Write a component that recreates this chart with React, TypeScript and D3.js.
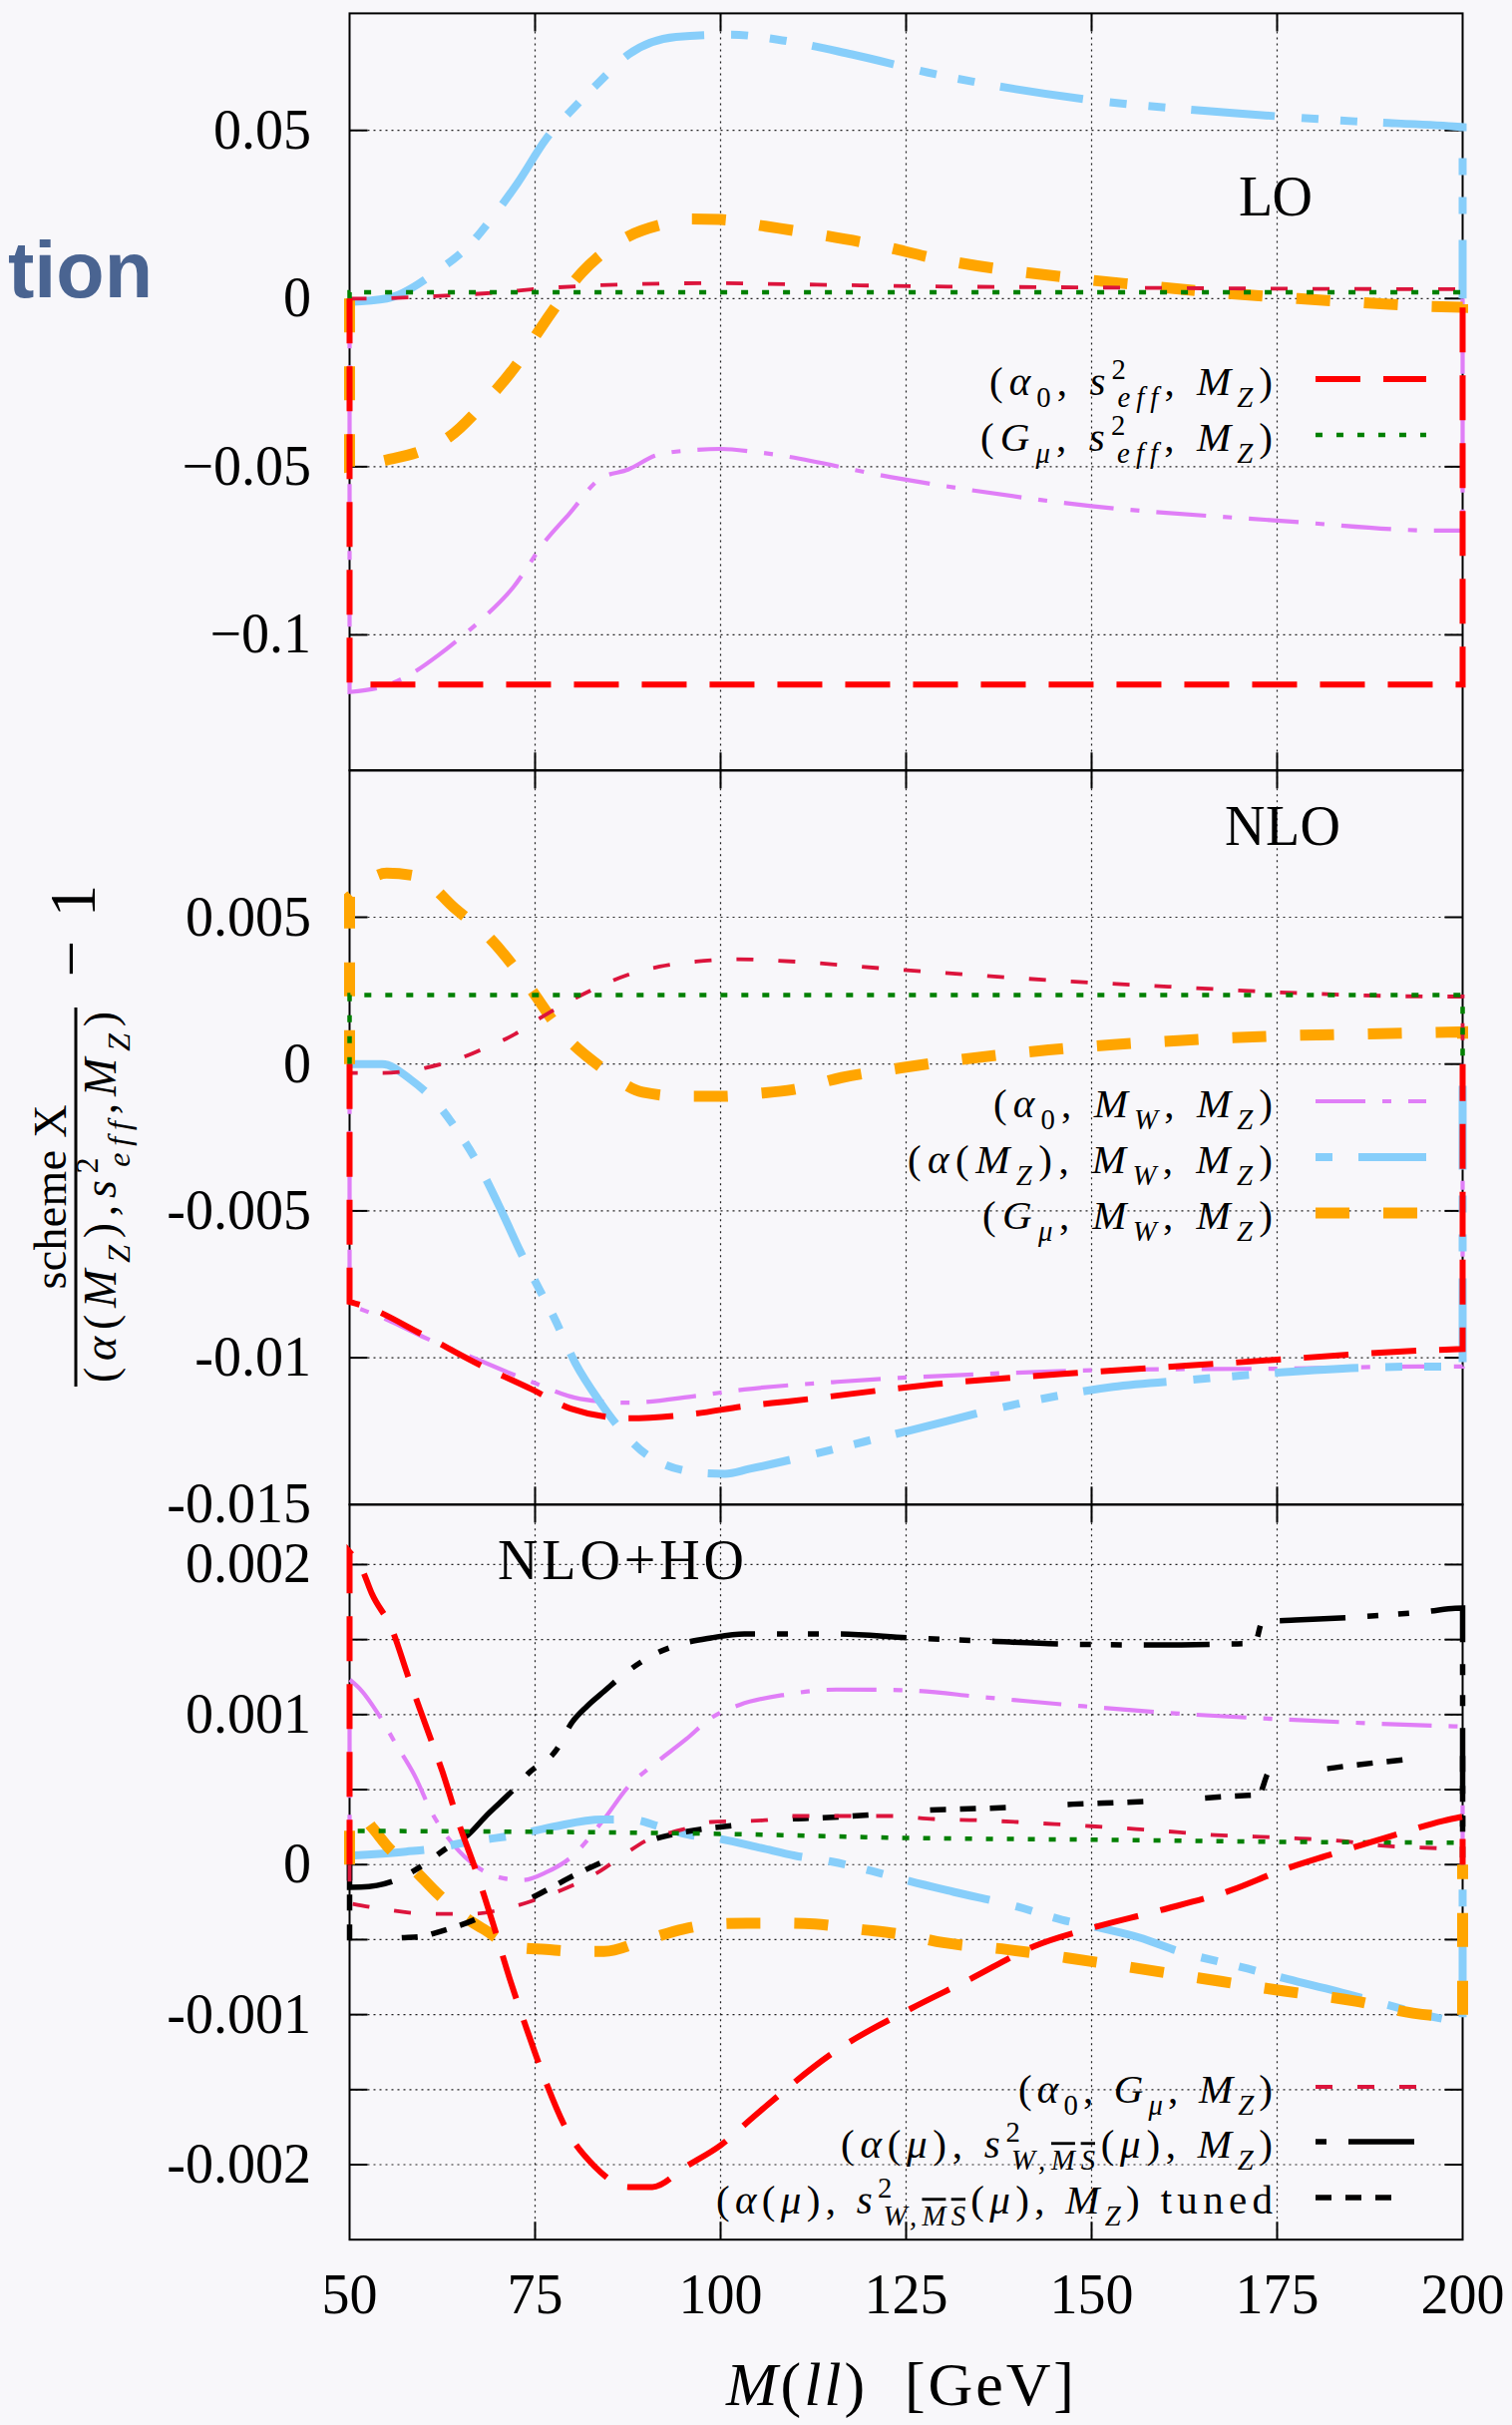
import React from 'react';
import * as d3 from 'd3';

type Pt = [number, number];
type Part = [string, string];

const SERIF = "'Liberation Serif', 'DejaVu Serif', serif";

// x axis: M(ll) in GeV
const massTicks = [50, 75, 100, 125, 150, 175, 200];

// ---- LO panel ----
const loTicks = [0.05, 0, -0.05, -0.1];
const loTickText = ['0.05', '0', '\u22120.05', '\u22120.1'];
const loA0Seff: Pt[] = [[50, -0.1148], [200, -0.1148]];
const loGmuSeff: Pt[] = [[50, 0.0019], [200, 0.0019]];
const loA0Gmu: Pt[] = [[50, 0], [52.6, 0], [61.5, 0.0007], [68, 0.0015], [77.8, 0.0033], [89, 0.0043], [100, 0.0046], [105.7, 0.0044], [129, 0.0036], [150, 0.0033], [169, 0.003], [197, 0.0028], [200, 0.0028]];
const loA0Mw: Pt[] = [[50, -0.117], [55, -0.115], [58, -0.112], [62, -0.106], [65.4, -0.1], [68, -0.095], [72, -0.086], [76.4, -0.072], [79.6, -0.064], [83.8, -0.0535], [87.6, -0.0508], [91.5, -0.0465], [96.7, -0.045], [100, -0.0447], [105, -0.0457], [124, -0.0535], [150, -0.0617], [175, -0.066], [197, -0.069], [200, -0.069]];
const loAmzMw: Pt[] = [[50, -0.001], [55, 0], [61.5, 0.0077], [66.4, 0.0165], [69.3, 0.0243], [72.6, 0.0342], [76.5, 0.0475], [80.4, 0.0571], [83.7, 0.0645], [87.6, 0.0726], [94, 0.0778], [101.3, 0.0785], [107.7, 0.077], [117.7, 0.0726], [129, 0.0667], [149, 0.0593], [169, 0.0552], [185.5, 0.0527], [198.8, 0.0512], [200, 0.051]];
const loGmuMw: Pt[] = [[50, -0.05], [55, -0.048], [60, -0.045], [63.5, -0.041], [68, -0.0314], [72.3, -0.0203], [76, -0.008], [81.3, 0.0077], [86.2, 0.0168], [92.8, 0.0224], [96, 0.0237], [100, 0.0235], [106, 0.0215], [113.3, 0.019], [121.3, 0.0158], [128.6, 0.0121], [148.2, 0.0059], [156.5, 0.004], [164.8, 0.0022], [177.8, 0], [186.4, -0.0012], [195.5, -0.0023], [200, -0.0026]];

// ---- NLO panel ----
const nloTicks = [0.005, 0, -0.005, -0.01, -0.015];
const nloTickText = ['0.005', '0', '-0.005', '-0.01', '-0.015'];
const nloA0Seff: Pt[] = [[50, -0.0081], [52.4, -0.00828], [59.6, -0.00918], [68, -0.0103], [74.6, -0.01108], [79.8, -0.01173], [87.6, -0.01206], [96.7, -0.0119], [103.2, -0.01165], [109, -0.01149], [129, -0.0109], [149, -0.0105], [169, -0.01017], [194, -0.00976], [200, -0.0097]];
const nloGmuSeff: Pt[] = [[50, 0.00235], [200, 0.00235]];
const nloA0Gmu: Pt[] = [[50, -0.0003], [54.4, -0.0003], [60.2, -0.00013], [64.5, 0.00016], [68.4, 0.00056], [72.3, 0.00102], [75.9, 0.0016], [79.5, 0.00212], [83.4, 0.00261], [87.3, 0.00302], [91.8, 0.00332], [96.7, 0.00349], [102.2, 0.00357], [107.7, 0.00352], [124.3, 0.00321], [144.2, 0.00286], [160.9, 0.00263], [177.5, 0.00242], [196.8, 0.0023], [200, 0.0023]];
const nloA0Mw: Pt[] = [[50, -0.0082], [55, -0.0087], [60, -0.0093], [68, -0.01014], [74.6, -0.01083], [81.1, -0.0114], [87.6, -0.01153], [96.7, -0.0113], [103.2, -0.01108], [115.7, -0.01082], [135.6, -0.01055], [155.6, -0.0104], [175.5, -0.01037], [194, -0.0103], [200, -0.0103]];
const nloAmzMw: Pt[] = [[50, 0], [54.4, 0], [58.3, -0.00054], [61.6, -0.00129], [64.5, -0.00226], [67, -0.00326], [70.6, -0.00507], [73, -0.00638], [75.3, -0.00754], [77.5, -0.0086], [80.4, -0.01017], [83.7, -0.01149], [86.9, -0.01255], [90.5, -0.01338], [97.4, -0.01392], [100.6, -0.01395], [103.8, -0.01379], [111, -0.01338], [116.3, -0.01305], [125.6, -0.01247], [141.5, -0.01149], [152.9, -0.01099], [163.5, -0.01075], [175.5, -0.0105], [194, -0.0103], [200, -0.0103]];
const nloGmuMw: Pt[] = [[50, 0.0057], [55, 0.0065], [59, 0.0064], [64.2, 0.0053], [69.1, 0.00423], [74, 0.0027], [78.8, 0.00102], [84, -0.00013], [89.5, -0.00096], [95, -0.0011], [100, -0.0011], [105, -0.001], [109.7, -0.00087], [116.3, -0.00046], [124.3, -0.00013], [144.2, 0.00048], [152.9, 0.00066], [161.6, 0.0008], [176.8, 0.00097], [185.8, 0.00102], [194.8, 0.00107], [200, 0.0011]];

// ---- NLO+HO panel ----
const hoTicks = [0.002, 0.0015, 0.001, 0.0005, 0, -0.0005, -0.001, -0.0015, -0.002];
const hoTickText = ['0.002', '', '0.001', '', '0', '', '-0.001', '', '-0.002'];
const hoA0Seff: Pt[] = [[50, 0.002085], [51.7, 0.001966], [53, 0.001807], [55.7, 0.00157], [57.9, 0.001254], [60.2, 0.000937], [62.5, 0.000621], [64.8, 0.000264], [67.1, -0.000051], [69.3, -0.000388], [71.6, -0.000764], [73.9, -0.0011], [76.2, -0.001417], [79.1, -0.001753], [83, -0.00201], [87.6, -0.002149], [90.8, -0.002149], [95.4, -0.00201], [100, -0.001871], [104.6, -0.001674], [115.6, -0.001239], [125.6, -0.000961], [133.6, -0.000764], [142.2, -0.000546], [150.2, -0.00042], [158.9, -0.000309], [168.8, -0.000171], [175.5, -0.00004], [182.2, 0.000067], [190.8, 0.000197], [197.4, 0.000292], [200, 0.00032]];
const hoGmuSeff: Pt[] = [[50, 0.000225], [100, 0.000205], [125, 0.000178], [150, 0.000166], [175, 0.000152], [200, 0.000146]];
const hoA0Gmu: Pt[] = [[50, -0.000258], [54.5, -0.000297], [60.8, -0.000328], [66.5, -0.000328], [71, -0.000293], [76, -0.000218], [78.5, -0.000171], [83.5, -0.000051], [87, 0.000067], [90.2, 0.000166], [94.8, 0.000233], [98.7, 0.000284], [106, 0.000296], [109, 0.000324], [117, 0.000324], [123, 0.000324], [128.7, 0.000304], [134.5, 0.000296], [140, 0.000284], [145, 0.00027], [150, 0.000256], [156, 0.000237], [161.5, 0.000217], [166.7, 0.000197], [172, 0.000187], [178, 0.000174], [183.5, 0.000158], [189, 0.000127], [197.5, 0.000107], [200, 0.0001]];
const hoA0Mw: Pt[] = [[50, 0.001234], [51.7, 0.001155], [53.7, 0.001017], [56.3, 0.000799], [58.9, 0.000581], [60.9, 0.000364], [64.1, 0.000127], [67.1, -0.000012], [70.7, -0.000091], [73.3, -0.000103], [76.5, -0.000051], [79.8, 0.000047], [84.3, 0.000304], [87.6, 0.000522], [90.8, 0.00066], [95.4, 0.000838], [98.7, 0.000977], [102.6, 0.001066], [109, 0.001135], [115.6, 0.001167], [124.3, 0.001163], [135.6, 0.001115], [148.9, 0.001056], [162.2, 0.001005], [175.5, 0.000969], [196.8, 0.000925], [200, 0.00092]];
const hoAmzMw: Pt[] = [[50, 0.00006], [57.6, 0.000087], [61.5, 0.000107], [65.4, 0.000146], [68, 0.000166], [72, 0.000193], [77.5, 0.000253], [84, 0.0003], [88, 0.0003], [92, 0.00025], [95.6, 0.0002], [100, 0.00017], [105.5, 0.00011], [110, 0.00006], [115, 0.00002], [121, -0.000051], [125.5, -0.000111], [131.5, -0.000183], [140, -0.000281], [146, -0.000368], [151, -0.00042], [156.5, -0.000487], [161, -0.000566], [171, -0.000693], [176.5, -0.000764], [183, -0.000843], [191, -0.00095], [196.5, -0.00102], [200, -0.00105]];
const hoGmuMw: Pt[] = [[50, 0.00025], [51.5, 0.00033], [53, 0.00025], [55.5, 0.0001], [58, 0], [62, -0.0002], [66.4, -0.00038], [68, -0.000428], [72.3, -0.00055], [76.5, -0.000566], [80.4, -0.000578], [84.3, -0.000578], [90, -0.0005], [95, -0.00043], [99.3, -0.000396], [103.6, -0.00039], [108.3, -0.00039], [112.7, -0.000396], [118.5, -0.00043], [125, -0.00047], [130, -0.00052], [138.6, -0.000566], [146.5, -0.00062], [154.6, -0.00068], [165, -0.00076], [176, -0.000843], [185.6, -0.00091], [193.3, -0.00099], [200, -0.00102]];
const hoAmuSw: Pt[] = [[50, -0.000151], [51.5, -0.00015], [56.4, -0.0001], [60, 0], [63, 0.000107], [66, 0.0002], [68.5, 0.00033], [72, 0.000495], [74.2, 0.000613], [77.8, 0.00076], [80, 0.00095], [82, 0.001056], [84.3, 0.001155], [87.6, 0.001293], [91.5, 0.001412], [94.7, 0.001471], [98.7, 0.001511], [103.2, 0.001538], [115.6, 0.001538], [125.6, 0.001511], [135.6, 0.001491], [145.6, 0.001471], [158.9, 0.001464], [168.8, 0.001471], [172, 0.001475], [173, 0.001618], [177.5, 0.00163], [185.5, 0.00165], [195.5, 0.001689], [199, 0.001709], [200, 0.00171]];
const hoAmuSwTuned: Pt[] = [[50, -0.00056], [51.5, -0.00053], [56.3, -0.00049], [59.6, -0.00048], [61.5, -0.000456], [65.8, -0.000388], [70, -0.0003], [74.2, -0.00023], [76.5, -0.000171], [79.5, -0.000091], [87.2, 0.000087], [90.8, 0.000166], [94.7, 0.000213], [104.5, 0.000276], [109.2, 0.000304], [112.8, 0.00031], [123.4, 0.000344], [128, 0.000364], [132.4, 0.00037], [143.2, 0.000391], [147.5, 0.000403], [151.7, 0.00041], [162.5, 0.000435], [167, 0.00045], [171.2, 0.000462], [172.5, 0.000465], [174, 0.000621], [176, 0.000621], [180.2, 0.00063], [184.2, 0.000656], [194.5, 0.000711], [198.5, 0.000731], [200, 0.000735]];

// legend labels
const legA0Seff: Part[] = [['(', 'r'], ['α', 'i'], ['0', 'bn'], [', ', 'r'], ['s', 'i'], ['2', 'p'], ['eff', 'bk'], [', ', 'r'], ['M', 'i'], ['Z', 'b'], [')', 'r']];
const legGmuSeff: Part[] = [['(', 'r'], ['G', 'i'], ['μ', 'b'], [', ', 'r'], ['s', 'i'], ['2', 'p'], ['eff', 'bk'], [', ', 'r'], ['M', 'i'], ['Z', 'b'], [')', 'r']];
const legA0Mw: Part[] = [['(', 'r'], ['α', 'i'], ['0', 'bn'], [', ', 'r'], ['M', 'i'], ['W', 'b'], [', ', 'r'], ['M', 'i'], ['Z', 'b'], [')', 'r']];
const legAmzMw: Part[] = [['(', 'r'], ['α', 'i'], ['(', 'r'], ['M', 'i'], ['Z', 'b'], ['), ', 'r'], ['M', 'i'], ['W', 'b'], [', ', 'r'], ['M', 'i'], ['Z', 'b'], [')', 'r']];
const legGmuMw: Part[] = [['(', 'r'], ['G', 'i'], ['μ', 'b'], [', ', 'r'], ['M', 'i'], ['W', 'b'], [', ', 'r'], ['M', 'i'], ['Z', 'b'], [')', 'r']];
const legA0Gmu: Part[] = [['(', 'r'], ['α', 'i'], ['0', 'bn'], [', ', 'r'], ['G', 'i'], ['μ', 'b'], [', ', 'r'], ['M', 'i'], ['Z', 'b'], [')', 'r']];
const legAmuSw: Part[] = [['(', 'r'], ['α', 'i'], ['(', 'r'], ['μ', 'i'], ['), ', 'r'], ['s', 'i'], ['2', 'p'], ['W,', 'bk'], ['MS', 'bo'], ['(', 'r'], ['μ', 'i'], ['), ', 'r'], ['M', 'i'], ['Z', 'b'], [')', 'r']];
const legAmuSwTuned: Part[] = [...legAmuSw, ['\u00a0tuned', 'r']];
const yDenom: Part[] = [['(', 'r'], ['α', 'i'], ['(', 'r'], ['M', 'i'], ['Z', 'b'], ['),', 'r'], ['s', 'i'], ['2', 'p'], ['eff', 'bk'], [',', 'r'], ['M', 'i'], ['Z', 'b'], [')', 'r']];
const xTitle: Part[] = [['M', 'i'], ['(', 'r'], ['ll', 'i'], [')\u00a0\u00a0[GeV]', 'r']];

const STYLES: Record<string, { color: string; w: number; dash: string; legOff?: number }> = {
  a0Seff: { color: '#ff0000', w: 6, dash: '45,23' },
  gmuSeff: { color: '#008000', w: 4.5, dash: '7,14' },
  a0Mw: { color: '#e07ef7', w: 4.2, dash: '50,17,9,17' },
  amzMw: { color: '#87cefa', w: 8, dash: '84,27,17,22,17,26', legOff: 150 },
  gmuMw: { color: '#ffa500', w: 11, dash: '34,34' },
  a0Gmu: { color: '#dc143c', w: 3.8, dash: '17,25' },
  amuSw: { color: '#000000', w: 5.5, dash: '66,22,11,20,11,22', legOff: 119 },
  amuSwTuned: { color: '#000000', w: 5.5, dash: '16,14,16,14,16,62' },
};

const LEFT = 350.5;
const RIGHT = 1466.5;
const x = d3.scaleLinear().domain([50, 200]).range([LEFT, RIGHT]);

function MathText({ parts, x, y, size, anchor = 'end', len }: { parts: Part[]; x: number; y: number; size: number; anchor?: string; len?: number }) {
  let cur = 0;
  return (
    <text x={x} y={y} fontSize={size} textAnchor={anchor} textLength={len} lengthAdjust="spacing" fontFamily={SERIF} fill="#000">
      {parts.map(([t, k], i) => {
        const small = !(k === 'r' || k === 'i');
        const target = k === 'p' ? -0.4 * size : small ? 0.3 * size : 0;
        const dy = target - cur;
        cur = target;
        return (
          <tspan key={i} dy={dy} dx={k === 'bk' ? -0.35 * size : 0} fontSize={small ? size * 0.7 : size}
            fontStyle={k === 'r' || k === 'p' || k === 'bn' ? 'normal' : 'italic'}
            style={k === 'bo' ? { textDecoration: 'overline' } : undefined}>{t}</tspan>
        );
      })}
    </text>
  );
}

type Series = { key: string; data: Pt[] };
type Legend = { key: string; parts: Part[]; y: number; len: number };

function Panel({ top, bottom, domain, ticks, tickText, series, legend, label }: {
  top: number; bottom: number; domain: [number, number]; ticks: number[]; tickText: string[];
  series: Series[]; legend: Legend[]; label: { text: string; x: number; y: number; len: number };
}) {
  const y = d3.scaleLinear().domain(domain).range([bottom, top]);
  const line = d3.line<Pt>().x(d => x(d[0])).y(d => y(d[1])).curve(d3.curveMonotoneX);
  const pathOf = (data: Pt[]) => {
    const body = line(data) || '';
    return `M${x(50)},${y(0)}L` + body.slice(1) + `L${x(200)},${y(0)}`;
  };
  const inner = ticks.filter(t => y(t) > top + 1 && y(t) < bottom - 1);
  return (
    <g>
      {massTicks.slice(1, -1).map(m => (
        <line key={'gx' + m} x1={x(m)} x2={x(m)} y1={top} y2={bottom} stroke="#222" strokeWidth={1.2} strokeDasharray="2,4" />
      ))}
      {inner.map(t => (
        <line key={'gy' + t} x1={LEFT} x2={RIGHT} y1={y(t)} y2={y(t)} stroke="#222" strokeWidth={1.2} strokeDasharray="2,4" />
      ))}
      <rect x={LEFT} y={top} width={RIGHT - LEFT} height={bottom - top} fill="none" stroke="#000" strokeWidth={2} />
      {inner.map(t => (
        <g key={'ty' + t}>
          <line x1={LEFT} x2={LEFT + 18} y1={y(t)} y2={y(t)} stroke="#000" strokeWidth={2} />
          <line x1={RIGHT - 18} x2={RIGHT} y1={y(t)} y2={y(t)} stroke="#000" strokeWidth={2} />
        </g>
      ))}
      {massTicks.slice(1, -1).map(m => (
        <g key={'tx' + m}>
          <line x1={x(m)} x2={x(m)} y1={top} y2={top + 18} stroke="#000" strokeWidth={2} />
          <line x1={x(m)} x2={x(m)} y1={bottom - 18} y2={bottom} stroke="#000" strokeWidth={2} />
        </g>
      ))}
      {ticks.map((t, i) => tickText[i] ? (
        <text key={'lb' + t} x={312} y={y(t) + 18} textAnchor="end" fontSize={56} fontFamily={SERIF} fill="#000">{tickText[i]}</text>
      ) : null)}
      {series.map(s => {
        const st = STYLES[s.key];
        return <path key={s.key} d={pathOf(s.data)} fill="none" stroke={st.color} strokeWidth={st.w} strokeDasharray={st.dash} strokeLinecap="butt" strokeLinejoin="miter" />;
      })}
      <text x={label.x} y={label.y} fontSize={56} fontFamily={SERIF} textLength={label.len} lengthAdjust="spacing" fill="#000">{label.text}</text>
      {legend.map(l => {
        const st = STYLES[l.key];
        return (
          <g key={'lg' + l.key}>
            <MathText parts={l.parts} x={1276} y={l.y} size={41} len={l.len} />
            <line x1={1319} x2={1430} y1={l.y - 16} y2={l.y - 16} stroke={st.color} strokeWidth={st.w} strokeDasharray={st.dash} strokeDashoffset={st.legOff || 0} />
          </g>
        );
      })}
    </g>
  );
}

export default function App() {
  return (
    <svg width={1516} height={2431} viewBox="0 0 1516 2431" style={{ position: 'absolute', left: 0, top: 0, display: 'block' }}>
      <rect x={0} y={0} width={1516} height={2431} fill="#f8f7fa" />
      <text x={8} y={298} fontFamily="'Liberation Sans', Arial, sans-serif" fontWeight="bold" fontSize={80} textLength={145} lengthAdjust="spacingAndGlyphs" fill="#4a6491">tion</text>

      <Panel top={13.4} bottom={772.3} domain={[-0.1403, 0.0848]} ticks={loTicks} tickText={loTickText}
        series={[
          { key: 'a0Mw', data: loA0Mw }, { key: 'amzMw', data: loAmzMw }, { key: 'gmuMw', data: loGmuMw },
          { key: 'a0Gmu', data: loA0Gmu }, { key: 'gmuSeff', data: loGmuSeff }, { key: 'a0Seff', data: loA0Seff },
        ]}
        legend={[
          { key: 'a0Seff', parts: legA0Seff, y: 396, len: 284 },
          { key: 'gmuSeff', parts: legGmuSeff, y: 452, len: 293 },
        ]}
        label={{ text: 'LO', x: 1242, y: 216, len: 74 }} />

      <Panel top={772.3} bottom={1508.3} domain={[-0.015, 0.01]} ticks={nloTicks} tickText={nloTickText}
        series={[
          { key: 'a0Mw', data: nloA0Mw }, { key: 'amzMw', data: nloAmzMw }, { key: 'gmuMw', data: nloGmuMw },
          { key: 'a0Gmu', data: nloA0Gmu }, { key: 'gmuSeff', data: nloGmuSeff }, { key: 'a0Seff', data: nloA0Seff },
        ]}
        legend={[
          { key: 'a0Mw', parts: legA0Mw, y: 1120, len: 280 },
          { key: 'amzMw', parts: legAmzMw, y: 1176, len: 366 },
          { key: 'gmuMw', parts: legGmuMw, y: 1232, len: 291 },
        ]}
        label={{ text: 'NLO', x: 1228, y: 847, len: 116 }} />

      <Panel top={1508.3} bottom={2245.2} domain={[-0.0025, 0.0024]} ticks={hoTicks} tickText={hoTickText}
        series={[
          { key: 'a0Mw', data: hoA0Mw }, { key: 'amzMw', data: hoAmzMw }, { key: 'gmuMw', data: hoGmuMw },
          { key: 'amuSwTuned', data: hoAmuSwTuned }, { key: 'amuSw', data: hoAmuSw },
          { key: 'a0Gmu', data: hoA0Gmu }, { key: 'gmuSeff', data: hoGmuSeff }, { key: 'a0Seff', data: hoA0Seff },
        ]}
        legend={[
          { key: 'a0Gmu', parts: legA0Gmu, y: 2108, len: 255 },
          { key: 'amuSw', parts: legAmuSw, y: 2163, len: 433 },
          { key: 'amuSwTuned', parts: legAmuSwTuned, y: 2219, len: 558 },
        ]}
        label={{ text: 'NLO+HO', x: 499, y: 1583, len: 247 }} />

      {massTicks.map(m => (
        <text key={'xl' + m} x={x(m)} y={2319} textAnchor="middle" fontSize={56} fontFamily={SERIF} fill="#000">{m}</text>
      ))}
      <MathText parts={xTitle} x={728} y={2411} size={62} anchor="start" len={349} />

      <g transform="translate(76,1200) rotate(-90)">
        <line x1={-190} x2={190} y1={0} y2={0} stroke="#000" strokeWidth={3} />
        <text x={0} y={-10} textAnchor="middle" fontSize={46} fontFamily={SERIF} textLength={185} lengthAdjust="spacing" fill="#000">scheme X</text>
        <MathText parts={yDenom} x={0} y={40} size={46} anchor="middle" len={372} />
        <text x={239} y={17} textAnchor="middle" fontSize={65} fontFamily={SERIF} fill="#000">{'\u2212'}</text>
        <text x={297} y={19} textAnchor="middle" fontSize={65} fontFamily={SERIF} fill="#000">1</text>
      </g>
    </svg>
  );
}
